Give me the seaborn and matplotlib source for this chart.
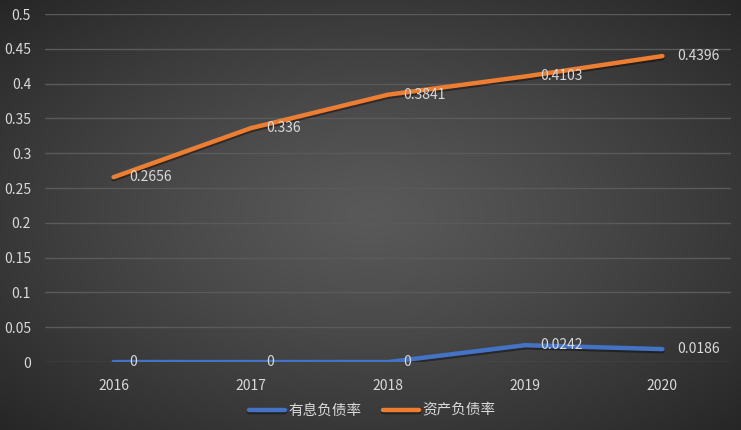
import numpy as np
import pandas as pd
import seaborn as sns
import matplotlib
matplotlib.use("Agg")
import matplotlib.pyplot as plt
import matplotlib.patheffects as pe

years = ["2016", "2017", "2018", "2019", "2020"]
interest_debt = [0, 0, 0, 0.0242, 0.0186]
asset_debt = [0.2656, 0.336, 0.3841, 0.4103, 0.4396]
series_names = ["有息负债率", "资产负债率"]
yticks = [0, 0.05, 0.1, 0.15, 0.2, 0.25, 0.3, 0.35, 0.4, 0.45, 0.5]
ytick_labels = ["0", "0.05", "0.1", "0.15", "0.2", "0.25", "0.3", "0.35", "0.4", "0.45", "0.5"]


def main():
    sns.set_theme(style="dark")
    plt.rcParams['font.family'] = ['Noto Sans CJK SC', 'DejaVu Sans']
    text_col = "#d9d9d9"

    df = pd.DataFrame({"year": years * 2,
                       "value": interest_debt + asset_debt,
                       "series": [series_names[0]] * 5 + [series_names[1]] * 5})
    df["x"] = list(range(len(years))) * 2

    fig = plt.figure(figsize=(7.41, 4.30), dpi=100)

    # radial gradient background
    bg = fig.add_axes([0, 0, 1, 1], zorder=-10)
    yy, xx = np.mgrid[-1:1:300j, -1:1:500j]
    r = np.sqrt(xx ** 2 + yy ** 2) / np.sqrt(2)
    c0, c1 = 0.35, 0.15
    img = c0 + (c1 - c0) * np.clip(r, 0, 1) ** 1.2
    bg.imshow(np.dstack([img, img, img]), aspect="auto", extent=[0, 1, 0, 1])
    bg.axis("off")

    ax = fig.add_axes([0.0607, 0.158, 0.9258, 0.8094])
    ax.patch.set_alpha(0)

    shadow = [pe.SimpleLineShadow(offset=(0, -1.5), alpha=0.4, shadow_color="black"), pe.Normal()]
    sns.lineplot(data=df, x="x", y="value", hue="series", palette=["#4472c4", "#ed7d31"],
                 linewidth=3.2, ax=ax, solid_capstyle="round", legend=True)
    for ln in ax.get_lines():
        ln.set_path_effects(shadow)

    for vals in (interest_debt, asset_debt):
        for i, v in enumerate(vals):
            ax.annotate(f"{v:g}", (i, v), xytext=(11, 0), textcoords="offset points",
                        va="center", ha="left", color=text_col, fontsize=10)

    ax.set_xlim(-0.5, 4.5)
    ax.set_ylim(0, 0.5)
    ax.set_yticks(yticks)
    ax.set_yticklabels(ytick_labels)
    ax.set_xticks(range(len(years)))
    ax.set_xticklabels(years)
    ax.tick_params(colors=text_col, labelsize=10, length=0, pad=10)
    ax.tick_params(axis="x", pad=12)
    ax.grid(axis="y", color="#5a5a5a", linewidth=1)
    ax.grid(axis="x", visible=False)
    for s in ax.spines.values():
        s.set_visible(False)
    ax.set_xlabel("")
    ax.set_ylabel("")

    handles, labels = ax.get_legend_handles_labels()
    ax.get_legend().remove()
    for h in handles:
        h.set_linewidth(3.2)
        h.set_solid_capstyle("round")
    leg = fig.legend(handles, labels, loc="center", bbox_to_anchor=(0.502, 0.045), ncol=2,
                     frameon=False, fontsize=10.5, handlelength=2.5, columnspacing=1.45,
                     handletextpad=0.2)
    for t in leg.get_texts():
        t.set_color(text_col)

    fig.savefig("out.png", dpi=100)


if __name__ == "__main__":
    main()
